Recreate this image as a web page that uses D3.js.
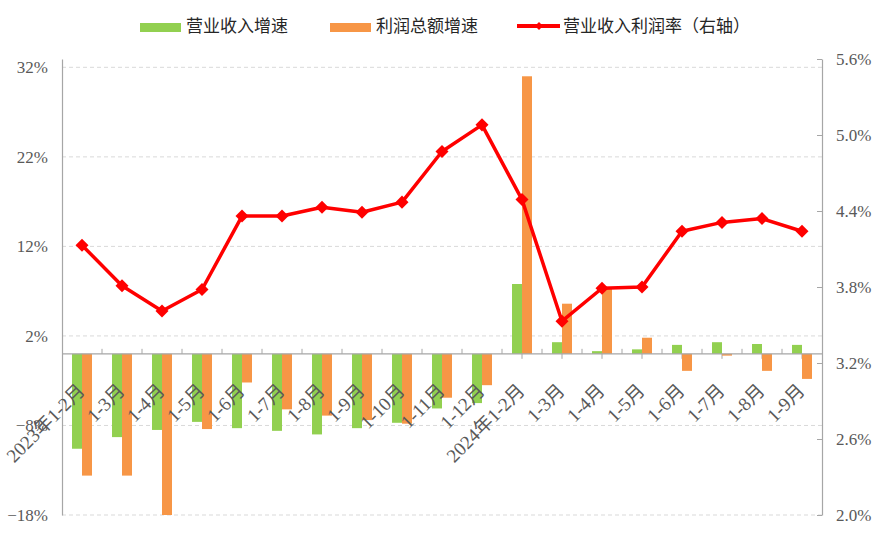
<!DOCTYPE html>
<html>
<head>
<meta charset="utf-8">
<script src="https://cdn.jsdelivr.net/npm/d3@7"></script>
<style>
  html, body { margin: 0; padding: 0; background: #fff; }
  svg { display: block; }
  .num { font-family: "Liberation Serif", "DejaVu Serif", "Noto Sans CJK SC", serif; }
  .cjk { font-family: "Noto Sans CJK SC", sans-serif; }
</style>
</head>
<body>
<svg id="chart" width="877" height="539"></svg>
<script>
// ---- data ----
const categories = ["2023年1-2月","1-3月","1-4月","1-5月","1-6月","1-7月","1-8月","1-9月","1-10月","1-11月","1-12月",
                    "2024年1-2月","1-3月","1-4月","1-5月","1-6月","1-7月","1-8月","1-9月"];
const revenueGrowth = [-10.6, -9.3, -8.5, -7.6, -8.3, -8.6, -9.0, -8.3, -7.7, -6.1, -5.5, 7.8, 1.3, 0.3, 0.5, 1.0, 1.3, 1.1, 1.0];
const profitGrowth  = [-13.6, -13.6, -18.0, -8.4, -3.2, -6.2, -6.9, -7.4, -7.8, -4.9, -3.5, 31.0, 5.6, 7.3, 1.8, -1.9, -0.2, -1.9, -2.8];
const profitMargin  = [4.13, 3.81, 3.61, 3.78, 4.36, 4.36, 4.43, 4.39, 4.47, 4.87, 5.08, 4.49, 3.53, 3.79, 3.80, 4.24, 4.31, 4.34, 4.24];
const leftTicks  = [-18, -8, 2, 12, 22, 32];
const rightTicks = [2.0, 2.6, 3.2, 3.8, 4.4, 5.0, 5.6];
const seriesNames = ["营业收入增速", "利润总额增速", "营业收入利润率（右轴）"];

// ---- layout ----
const svg = d3.select("#chart");
const L = 62, R = 822, T = 59, B = 515;
const green = "#92D050", orange = "#F79646", red = "#FF0000";
const axisColor = "#A6A6A6", gridColor = "#D9D9D9", labelColor = "#595959";

const x0 = d3.scaleBand().domain(d3.range(categories.length)).range([L, R]).paddingInner(0.5).paddingOuter(0.25);
const x1 = d3.scaleBand().domain(["rev", "profit"]).range([0, x0.bandwidth()]);
const center = i => x0(i) + x0.bandwidth() / 2;
const yL = d3.scaleLinear().domain([-18, 32.93]).range([B, T]);
const yR = d3.scaleLinear().domain([2.0, 5.6]).range([B, T]);
const y0 = yL(0);

// gridlines
svg.append("g").selectAll("line").data(leftTicks).join("line")
  .attr("x1", L).attr("x2", R)
  .attr("y1", d => yL(d)).attr("y2", d => yL(d))
  .attr("stroke", gridColor).attr("stroke-width", 1).attr("stroke-dasharray", "4,3");

// center ticks below axis (behind bars)
svg.append("g").selectAll("line").data(d3.range(categories.length)).join("line")
  .attr("x1", i => center(i)).attr("x2", i => center(i))
  .attr("y1", y0).attr("y2", y0 + 5)
  .attr("stroke", axisColor).attr("stroke-width", 1);

// bars
const barG = svg.append("g");
barG.selectAll("rect.rev").data(revenueGrowth).join("rect").attr("class", "rev")
  .attr("x", (d, i) => x0(i) + x1("rev"))
  .attr("width", x1.bandwidth())
  .attr("y", d => Math.min(yL(d), y0))
  .attr("height", d => Math.abs(yL(d) - y0))
  .attr("fill", green);
barG.selectAll("rect.profit").data(profitGrowth).join("rect").attr("class", "profit")
  .attr("x", (d, i) => x0(i) + x1("profit"))
  .attr("width", x1.bandwidth())
  .attr("y", d => Math.min(yL(d), y0))
  .attr("height", d => Math.abs(yL(d) - y0))
  .attr("fill", orange);

// x axis line + boundary ticks
svg.append("line").attr("x1", L).attr("x2", R).attr("y1", y0).attr("y2", y0)
  .attr("stroke", axisColor).attr("stroke-width", 1.2);
svg.append("g").selectAll("line").data(d3.range(1, categories.length)).join("line")
  .attr("x1", i => L + i * x0.step()).attr("x2", i => L + i * x0.step())
  .attr("y1", y0).attr("y2", y0 - 5)
  .attr("stroke", axisColor).attr("stroke-width", 1);

// left axis
const leftAxis = d3.axisLeft(yL).tickValues(leftTicks).tickSize(0).tickPadding(14).tickFormat(d => d3.format("d")(d) + "%");
const gL = svg.append("g").attr("transform", `translate(${L},0)`).call(leftAxis).attr("font-family", null);
gL.select(".domain").attr("stroke", axisColor).attr("stroke-width", 1.2);
gL.selectAll("text").attr("class", "num").attr("font-size", 17).attr("fill", labelColor);

// right axis
const rightAxis = d3.axisRight(yR).tickValues(rightTicks).tickSize(0).tickPadding(14).tickFormat(d => d3.format(".1f")(d) + "%");
const gR = svg.append("g").attr("transform", `translate(${R},0)`).call(rightAxis).attr("font-family", null);
gR.select(".domain").attr("stroke", axisColor).attr("stroke-width", 1.2);
gR.selectAll("text").attr("class", "num").attr("font-size", 17).attr("fill", labelColor);
gR.selectAll(".tick").append("line").attr("x1", 0).attr("x2", -5).attr("stroke", axisColor).attr("stroke-width", 1);

// x labels
svg.append("g").selectAll("text").data(categories).join("text")
  .attr("class", "num")
  .attr("transform", (d, i) => `translate(${center(i) + 4},${y0 + 38}) rotate(-45)`)
  .attr("text-anchor", "end")
  .attr("font-size", 19).attr("fill", labelColor)
  .text(d => d);

// line
const line = d3.line().x((d, i) => center(i)).y(d => yR(d));
svg.append("path").datum(profitMargin).attr("d", line)
  .attr("fill", "none").attr("stroke", red).attr("stroke-width", 3.5).attr("stroke-linejoin", "round");
const diamond = d3.symbol().type(d3.symbolSquare).size(85);
svg.append("g").selectAll("path").data(profitMargin).join("path")
  .attr("d", diamond)
  .attr("transform", (d, i) => `translate(${center(i)},${yR(d)}) rotate(45)`)
  .attr("fill", red);

// legend
const lg = svg.append("g");
lg.append("rect").attr("x", 140).attr("y", 23).attr("width", 41).attr("height", 9).attr("fill", green);
lg.append("text").attr("x", 186).attr("y", 32).text(seriesNames[0]);
lg.append("rect").attr("x", 330).attr("y", 23).attr("width", 41).attr("height", 9).attr("fill", orange);
lg.append("text").attr("x", 376).attr("y", 32).text(seriesNames[1]);
lg.append("line").attr("x1", 517).attr("x2", 560).attr("y1", 26).attr("y2", 26).attr("stroke", red).attr("stroke-width", 4);
lg.append("path").attr("d", d3.symbol().type(d3.symbolSquare).size(32)).attr("transform", "translate(539,26) rotate(45)").attr("fill", red);
lg.append("text").attr("x", 563).attr("y", 32).text(seriesNames[2]);
lg.selectAll("text").attr("class", "cjk").attr("font-size", 17).attr("fill", "#262626");
</script>
</body>
</html>
